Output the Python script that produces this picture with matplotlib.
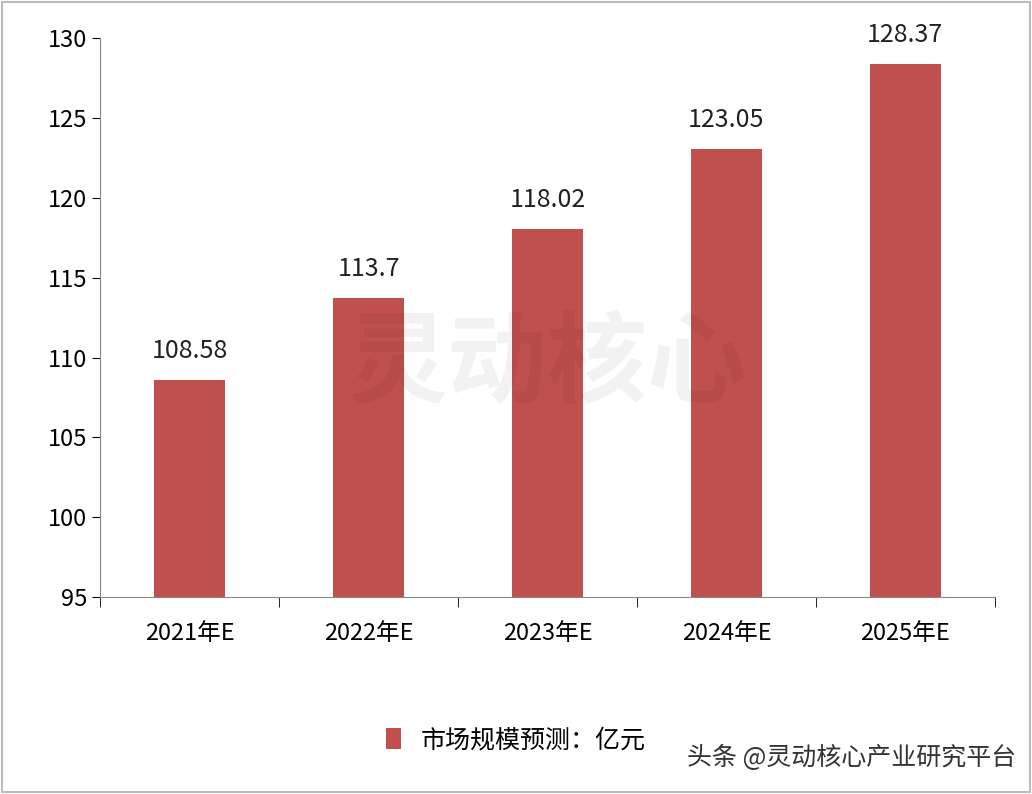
import matplotlib.pyplot as plt
import numpy as np

plt.rcParams['font.family'] = ['Noto Sans CJK SC', 'DejaVu Sans']

years = ['2021年E', '2022年E', '2023年E', '2024年E', '2025年E']
values = [108.58, 113.7, 118.02, 123.05, 128.37]
labels = ['108.58', '113.7', '118.02', '123.05', '128.37']

fig = plt.figure(figsize=(10.32, 7.94), dpi=100)
ax = fig.add_axes([0.097, 0.248, 0.867, 0.704])

x = np.arange(len(years))
bars = ax.bar(x, values, width=0.4, color='#C0504D', label='市场规模预测：亿元', zorder=2)
for xi, v, t in zip(x, values, labels):
    ax.text(xi, v + 1.0, t, ha='center', va='bottom', fontsize=18, color='#222222')

ax.set_ylim(95, 130)
ax.set_xlim(-0.5, 4.5)
ax.set_yticks(range(95, 131, 5))
ax.tick_params(axis='y', labelsize=17, length=6, direction='out')
ax.set_xticks(x)
ax.set_xticklabels(years, fontsize=17)
ax.tick_params(axis='x', length=0, pad=18)
ax.set_xticks(np.arange(-0.5, 5, 1), minor=True)
ax.tick_params(axis='x', which='minor', length=7)
for s in ['top', 'right']:
    ax.spines[s].set_visible(False)
ax.spines['left'].set_color('#888888')
ax.spines['bottom'].set_color('#888888')

fig.text(0.53, 0.54, '灵动核心', fontsize=72, color='black', alpha=0.05, ha='center', va='center',
         fontweight='bold', zorder=5)

fig.legend(handles=[bars], loc='center', bbox_to_anchor=(0.5, 0.068), frameon=False,
           fontsize=18, handlelength=0.6, handleheight=0.9)
fig.text(0.985, 0.045, '头条 @灵动核心产业研究平台', fontsize=18, color='#333333',
         ha='right', va='center')

fig.patches.append(plt.Rectangle((0.002, 0.002), 0.996, 0.996, transform=fig.transFigure,
                                 fill=False, edgecolor='#bbbbbb', linewidth=1.5))

fig.savefig('out.png')
